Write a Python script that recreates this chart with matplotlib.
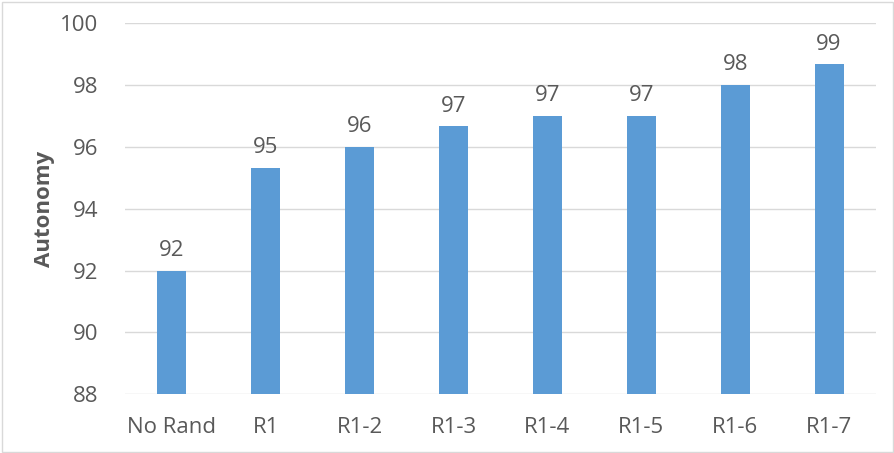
import matplotlib
matplotlib.use("Agg")
import matplotlib.pyplot as plt

# Data
categories = ['No Rand', 'R1', 'R1-2', 'R1-3', 'R1-4', 'R1-5', 'R1-6', 'R1-7']
autonomy = [92.0, 95.33, 96.0, 96.67, 97.0, 97.0, 98.0, 98.67]

plt.rcParams['font.family'] = ['Open Sans', 'DejaVu Sans']
text_color = '#595959'

fig = plt.figure(figsize=(8.95, 4.53), dpi=100)
ax = fig.add_axes([125 / 895, 1 - 394.3 / 453, (876 - 125) / 895, (394.3 - 23.3) / 453])

# Light border round the whole picture
fig.patches.append(plt.Rectangle((0.002, 0.003), 0.996, 0.993, transform=fig.transFigure,
                                 fill=False, edgecolor='#D9D9D9', linewidth=1))

bars = ax.bar(categories, autonomy, width=0.31, color='#5B9BD5', zorder=3)
ax.set_ylim(88, 100)
ax.set_xlim(-0.5, len(categories) - 0.5)
ax.set_yticks(range(88, 101, 2))
ax.grid(axis='y', color='#D9D9D9', linewidth=1, zorder=0)

# Value labels above the bars
for b, v in zip(bars, autonomy):
    ax.annotate(f'{v:.0f}', (b.get_x() + b.get_width() / 2, v), xytext=(0, 7),
                textcoords='offset points', ha='center', va='bottom',
                fontsize=16, color=text_color)

for s in ax.spines.values():
    s.set_visible(False)
ax.tick_params(axis='both', length=0, labelsize=16, colors=text_color)
ax.tick_params(axis='x', pad=16)
ax.tick_params(axis='y', pad=19)
ax.set_ylabel('Autonomy', fontsize=16, fontweight='bold', color=text_color, labelpad=4)

fig.savefig('out.png', dpi=100)
